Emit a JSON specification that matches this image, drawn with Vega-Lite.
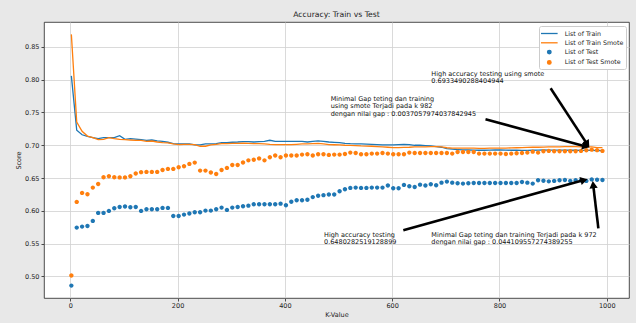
{
"$schema": "https://vega.github.io/schema/vega-lite/v6.json",
"width": 585, "height": 276,
"autosize": {"type": "none"},
"padding": {"left": 44, "top": 22, "right": 7, "bottom": 25},
"background": "#e8e8e8",
"title": {"text": "Accuracy: Train vs Test", "fontSize": 7.7, "fontWeight": "normal", "font": "DejaVu Sans", "color": "#222222", "offset": 3, "anchor": "middle"},
"config": {
  "font": "DejaVu Sans",
  "view": {"fill": "white", "stroke": "#222222", "strokeWidth": 0.8},
  "axis": {"domain": false, "grid": true, "gridColor": "#d0d0d0", "gridWidth": 0.8, "tickColor": "#222222", "tickSize": 3, "tickWidth": 0.8, "labelFontSize": 6.5, "labelColor": "#222222", "labelFont": "DejaVu Sans", "titleFont": "DejaVu Sans", "titleFontSize": 6.5, "titleFontWeight": "normal", "titleColor": "#222222", "labelPadding": 2}
},
"datasets": {
  "scores": [
    {"k":2,"train":0.8058,"train_smote":0.869,"test":0.4861,"test_smote":0.5014},
    {"k":12,"train":0.7229,"train_smote":0.7355,"test":0.5745,"test_smote":0.6137},
    {"k":22,"train":0.716,"train_smote":0.7213,"test":0.576,"test_smote":0.6274},
    {"k":32,"train":0.7137,"train_smote":0.714,"test":0.577,"test_smote":0.6253},
    {"k":42,"train":0.7117,"train_smote":0.7117,"test":0.5847,"test_smote":0.6355},
    {"k":52,"train":0.71,"train_smote":0.7087,"test":0.5969,"test_smote":0.641},
    {"k":62,"train":0.7117,"train_smote":0.709,"test":0.5969,"test_smote":0.6512},
    {"k":72,"train":0.7117,"train_smote":0.7117,"test":0.6,"test_smote":0.6528},
    {"k":82,"train":0.7117,"train_smote":0.71,"test":0.604,"test_smote":0.6512},
    {"k":92,"train":0.7145,"train_smote":0.709,"test":0.606,"test_smote":0.651},
    {"k":102,"train":0.709,"train_smote":0.7087,"test":0.6066,"test_smote":0.651},
    {"k":112,"train":0.71,"train_smote":0.708,"test":0.6055,"test_smote":0.6528},
    {"k":122,"train":0.7095,"train_smote":0.7076,"test":0.606,"test_smote":0.657},
    {"k":132,"train":0.7086,"train_smote":0.7076,"test":0.6,"test_smote":0.659},
    {"k":142,"train":0.7076,"train_smote":0.706,"test":0.6025,"test_smote":0.6594},
    {"k":152,"train":0.708,"train_smote":0.7065,"test":0.6025,"test_smote":0.6594},
    {"k":162,"train":0.7066,"train_smote":0.705,"test":0.6025,"test_smote":0.6594},
    {"k":172,"train":0.706,"train_smote":0.704,"test":0.6045,"test_smote":0.6624},
    {"k":182,"train":0.7046,"train_smote":0.7036,"test":0.6045,"test_smote":0.664},
    {"k":192,"train":0.7025,"train_smote":0.702,"test":0.5923,"test_smote":0.664},
    {"k":202,"train":0.702,"train_smote":0.701,"test":0.5923,"test_smote":0.6665},
    {"k":212,"train":0.7022,"train_smote":0.7015,"test":0.5943,"test_smote":0.668},
    {"k":222,"train":0.702,"train_smote":0.7015,"test":0.596,"test_smote":0.6716},
    {"k":232,"train":0.7005,"train_smote":0.701,"test":0.598,"test_smote":0.6736},
    {"k":242,"train":0.7005,"train_smote":0.6985,"test":0.598,"test_smote":0.6614},
    {"k":252,"train":0.702,"train_smote":0.6985,"test":0.6004,"test_smote":0.6614},
    {"k":262,"train":0.702,"train_smote":0.7005,"test":0.6004,"test_smote":0.6584},
    {"k":272,"train":0.7025,"train_smote":0.7015,"test":0.6025,"test_smote":0.6563},
    {"k":282,"train":0.704,"train_smote":0.7025,"test":0.605,"test_smote":0.6624},
    {"k":292,"train":0.704,"train_smote":0.7025,"test":0.6015,"test_smote":0.6655},
    {"k":302,"train":0.7046,"train_smote":0.703,"test":0.605,"test_smote":0.67},
    {"k":312,"train":0.705,"train_smote":0.703,"test":0.606,"test_smote":0.67},
    {"k":322,"train":0.7056,"train_smote":0.7033,"test":0.607,"test_smote":0.6738},
    {"k":332,"train":0.7055,"train_smote":0.703,"test":0.608,"test_smote":0.677},
    {"k":342,"train":0.705,"train_smote":0.7025,"test":0.61,"test_smote":0.678},
    {"k":352,"train":0.7055,"train_smote":0.7025,"test":0.61,"test_smote":0.68},
    {"k":362,"train":0.7058,"train_smote":0.7022,"test":0.61,"test_smote":0.677},
    {"k":372,"train":0.7076,"train_smote":0.7015,"test":0.61,"test_smote":0.6817},
    {"k":382,"train":0.7058,"train_smote":0.701,"test":0.61,"test_smote":0.6843},
    {"k":392,"train":0.706,"train_smote":0.701,"test":0.611,"test_smote":0.6817},
    {"k":402,"train":0.706,"train_smote":0.701,"test":0.6086,"test_smote":0.6843},
    {"k":412,"train":0.706,"train_smote":0.701,"test":0.614,"test_smote":0.6843},
    {"k":422,"train":0.706,"train_smote":0.7015,"test":0.6162,"test_smote":0.6843},
    {"k":432,"train":0.7058,"train_smote":0.702,"test":0.6162,"test_smote":0.6858},
    {"k":442,"train":0.705,"train_smote":0.702,"test":0.617,"test_smote":0.6863},
    {"k":452,"train":0.706,"train_smote":0.7025,"test":0.621,"test_smote":0.6843},
    {"k":462,"train":0.7066,"train_smote":0.703,"test":0.623,"test_smote":0.6863},
    {"k":472,"train":0.7058,"train_smote":0.702,"test":0.624,"test_smote":0.6863},
    {"k":482,"train":0.705,"train_smote":0.701,"test":0.625,"test_smote":0.6853},
    {"k":492,"train":0.7045,"train_smote":0.7008,"test":0.625,"test_smote":0.6858},
    {"k":502,"train":0.704,"train_smote":0.7005,"test":0.63,"test_smote":0.6858},
    {"k":512,"train":0.703,"train_smote":0.7,"test":0.633,"test_smote":0.6868},
    {"k":522,"train":0.7025,"train_smote":0.6998,"test":0.635,"test_smote":0.6888},
    {"k":532,"train":0.7022,"train_smote":0.6995,"test":0.6355,"test_smote":0.6883},
    {"k":542,"train":0.702,"train_smote":0.699,"test":0.635,"test_smote":0.6863},
    {"k":552,"train":0.7018,"train_smote":0.6988,"test":0.635,"test_smote":0.6863},
    {"k":562,"train":0.7015,"train_smote":0.6985,"test":0.6355,"test_smote":0.6873},
    {"k":572,"train":0.701,"train_smote":0.698,"test":0.6355,"test_smote":0.6873},
    {"k":582,"train":0.7005,"train_smote":0.6975,"test":0.6355,"test_smote":0.6883},
    {"k":592,"train":0.7005,"train_smote":0.697,"test":0.6386,"test_smote":0.6873},
    {"k":602,"train":0.7005,"train_smote":0.6965,"test":0.6345,"test_smote":0.6863},
    {"k":612,"train":0.701,"train_smote":0.6965,"test":0.6345,"test_smote":0.6863},
    {"k":622,"train":0.7015,"train_smote":0.6968,"test":0.6396,"test_smote":0.6863},
    {"k":632,"train":0.701,"train_smote":0.697,"test":0.6375,"test_smote":0.6888},
    {"k":642,"train":0.7,"train_smote":0.6975,"test":0.6365,"test_smote":0.6883},
    {"k":652,"train":0.7,"train_smote":0.6975,"test":0.64,"test_smote":0.6883},
    {"k":662,"train":0.6995,"train_smote":0.6975,"test":0.6386,"test_smote":0.6883},
    {"k":672,"train":0.699,"train_smote":0.6978,"test":0.6406,"test_smote":0.6883},
    {"k":682,"train":0.698,"train_smote":0.698,"test":0.639,"test_smote":0.6883},
    {"k":692,"train":0.697,"train_smote":0.6975,"test":0.643,"test_smote":0.6883},
    {"k":702,"train":0.6948,"train_smote":0.6962,"test":0.6446,"test_smote":0.6883},
    {"k":712,"train":0.694,"train_smote":0.6958,"test":0.643,"test_smote":0.6873},
    {"k":722,"train":0.6935,"train_smote":0.6955,"test":0.642,"test_smote":0.6898},
    {"k":732,"train":0.693,"train_smote":0.6955,"test":0.6416,"test_smote":0.6898},
    {"k":742,"train":0.6928,"train_smote":0.6955,"test":0.642,"test_smote":0.6898},
    {"k":752,"train":0.6926,"train_smote":0.6955,"test":0.6426,"test_smote":0.6898},
    {"k":762,"train":0.6924,"train_smote":0.6953,"test":0.6426,"test_smote":0.6873},
    {"k":772,"train":0.6924,"train_smote":0.6953,"test":0.6426,"test_smote":0.6873},
    {"k":782,"train":0.6926,"train_smote":0.6955,"test":0.6426,"test_smote":0.6873},
    {"k":792,"train":0.6928,"train_smote":0.6955,"test":0.6426,"test_smote":0.6873},
    {"k":802,"train":0.6928,"train_smote":0.6955,"test":0.6426,"test_smote":0.6873},
    {"k":812,"train":0.6926,"train_smote":0.6957,"test":0.6426,"test_smote":0.6868},
    {"k":822,"train":0.6924,"train_smote":0.696,"test":0.6426,"test_smote":0.6873},
    {"k":832,"train":0.6924,"train_smote":0.6962,"test":0.6426,"test_smote":0.6878},
    {"k":842,"train":0.6923,"train_smote":0.6965,"test":0.644,"test_smote":0.6883},
    {"k":852,"train":0.6923,"train_smote":0.6967,"test":0.643,"test_smote":0.6888},
    {"k":862,"train":0.6924,"train_smote":0.697,"test":0.6416,"test_smote":0.6903},
    {"k":872,"train":0.6926,"train_smote":0.697,"test":0.6467,"test_smote":0.6888},
    {"k":882,"train":0.6928,"train_smote":0.6972,"test":0.646,"test_smote":0.6909},
    {"k":892,"train":0.6927,"train_smote":0.6975,"test":0.645,"test_smote":0.6914},
    {"k":902,"train":0.6926,"train_smote":0.6975,"test":0.6457,"test_smote":0.6909},
    {"k":912,"train":0.6925,"train_smote":0.6977,"test":0.6467,"test_smote":0.6909},
    {"k":922,"train":0.6925,"train_smote":0.6978,"test":0.647,"test_smote":0.6909},
    {"k":932,"train":0.6924,"train_smote":0.6978,"test":0.6457,"test_smote":0.6909},
    {"k":942,"train":0.6924,"train_smote":0.6978,"test":0.6467,"test_smote":0.6909},
    {"k":952,"train":0.6923,"train_smote":0.6977,"test":0.6467,"test_smote":0.6914},
    {"k":962,"train":0.6922,"train_smote":0.6976,"test":0.6457,"test_smote":0.6924},
    {"k":972,"train":0.6921,"train_smote":0.6975,"test":0.648,"test_smote":0.6933},
    {"k":982,"train":0.692,"train_smote":0.6963,"test":0.6475,"test_smote":0.6926},
    {"k":992,"train":0.6919,"train_smote":0.6965,"test":0.647,"test_smote":0.6914}
  ],
  "arrows": [
    {"id":1,"k0":895.4,"v0":0.7868,"k1":963.8,"v1":0.7014},
    {"id":2,"k0":774.0,"v0":0.7396,"k1":961.0,"v1":0.6983},
    {"id":3,"k0":620.8,"v0":0.5706,"k1":957.7,"v1":0.6469},
    {"id":4,"k0":984.4,"v0":0.5732,"k1":974.7,"v1":0.6399}
  ],
  "notes": [
    {"k":673,"v":0.8134,"label":"High accuracy testing using smote\n0.6933490288404944"},
    {"k":485.4,"v":0.7753,"label":"Minimal Gap teting dan training\n\u00a0using smote Terjadi pada k 982\n\u00a0dengan nilai gap : 0.0037057974037842945"},
    {"k":473,"v":0.5683,"label":"High accuracy testing\n0.6480282519128899"},
    {"k":673,"v":0.5683,"label":"Minimal Gap teting dan training Terjadi pada k 972\n\u00a0dengan nilai gap : 0.044109557274389255"}
  ]
},
"layer": [
  {
    "data": {"name": "scores"},
    "transform": [{"fold": ["train", "train_smote"], "as": ["series", "score"]}],
    "mark": {"type": "line", "strokeWidth": 1.3},
    "encoding": {
      "x": {"field": "k", "type": "quantitative", "title": "K-Value", "scale": {"domain": [-49, 1041.5], "nice": false, "zero": false}, "axis": {"values": [0, 200, 400, 600, 800, 1000], "format": "d", "labelPadding": 1.5, "titlePadding": 2}},
      "y": {"field": "score", "type": "quantitative", "title": "Score", "scale": {"domain": [0.4672, 0.8879], "nice": false, "zero": false}, "axis": {"values": [0.5, 0.55, 0.6, 0.65, 0.7, 0.75, 0.8, 0.85], "tickCount": 8, "format": ".2f", "titlePadding": 3.5}},
      "color": {
        "field": "series", "type": "nominal",
        "scale": {"domain": ["train", "train_smote", "test", "test_smote"], "range": ["#1f77b4", "#ff7f0e", "#1f77b4", "#ff7f0e"]},
        "legend": {
          "title": null, "orient": "top-right", "offset": 3.5,
          "fillColor": "white", "strokeColor": "#cccccc", "cornerRadius": 2, "padding": 2,
          "labelFontSize": 6.3, "labelColor": "#222222", "labelFont": "DejaVu Sans",
          "rowPadding": 0.3, "symbolSize": 81, "symbolStrokeWidth": 1.3, "symbolOffset": 2.8, "labelOffset": 10,
          "labelExpr": "datum.value == 'train' ? 'List of Train' : datum.value == 'train_smote' ? 'List of Train Smote' : datum.value == 'test' ? 'List of Test' : 'List of Test Smote'"
        }
      }
    }
  },
  {
    "data": {"name": "scores"},
    "transform": [{"fold": ["test", "test_smote"], "as": ["series", "score"]}],
    "mark": {"type": "point", "filled": true, "size": 121, "opacity": 1},
    "encoding": {
      "x": {"field": "k", "type": "quantitative", "title": "K-Value", "axis": {"values": [0, 200, 400, 600, 800, 1000], "format": "d", "labelPadding": 1.5, "titlePadding": 2}},
      "y": {"field": "score", "type": "quantitative", "title": "Score", "axis": {"values": [0.5, 0.55, 0.6, 0.65, 0.7, 0.75, 0.8, 0.85], "tickCount": 8, "format": ".2f", "titlePadding": 3.5}},
      "color": {"field": "series", "type": "nominal"},
      "shape": {
        "field": "series", "type": "nominal",
        "scale": {"domain": ["train", "train_smote", "test", "test_smote"], "range": ["M-1.85,0L1.85,0", "M-1.85,0L1.85,0", "M-0.4,0A0.4,0.4,0,1,1,0.4,0A0.4,0.4,0,1,1,-0.4,0Z", "M-0.4,0A0.4,0.4,0,1,1,0.4,0A0.4,0.4,0,1,1,-0.4,0Z"]},
        "legend": {
          "title": null, "orient": "top-right", "offset": 3.5,
          "fillColor": "white", "strokeColor": "#cccccc", "cornerRadius": 2, "padding": 2,
          "labelFontSize": 6.3, "labelColor": "#222222", "labelFont": "DejaVu Sans",
          "rowPadding": 0.3, "symbolSize": 81, "symbolStrokeWidth": 1.3, "symbolOffset": 2.8, "labelOffset": 10,
          "labelExpr": "datum.value == 'train' ? 'List of Train' : datum.value == 'train_smote' ? 'List of Train Smote' : datum.value == 'test' ? 'List of Test' : 'List of Test Smote'"
        }
      }
    }
  },
  {
    "data": {"name": "arrows"},
    "mark": {"type": "rule", "color": "black", "strokeWidth": 2.6},
    "encoding": {
      "x": {"field": "k0", "type": "quantitative", "title": "K-Value", "axis": {"values": [0, 200, 400, 600, 800, 1000], "format": "d", "labelPadding": 1.5, "titlePadding": 2}},
      "y": {"field": "v0", "type": "quantitative", "title": "Score", "axis": {"values": [0.5, 0.55, 0.6, 0.65, 0.7, 0.75, 0.8, 0.85], "tickCount": 8, "format": ".2f", "titlePadding": 3.5}},
      "x2": {"field": "k1"},
      "y2": {"field": "v1"}
    }
  },
  {
    "data": {"name": "arrows"},
    "mark": {"type": "point", "shape": "triangle-up", "filled": true, "color": "black", "size": 70, "opacity": 1},
    "encoding": {
      "x": {"field": "k1", "type": "quantitative", "title": "K-Value", "axis": {"values": [0, 200, 400, 600, 800, 1000], "format": "d", "labelPadding": 1.5, "titlePadding": 2}},
      "y": {"field": "v1", "type": "quantitative", "title": "Score", "axis": {"values": [0.5, 0.55, 0.6, 0.65, 0.7, 0.75, 0.8, 0.85], "tickCount": 8, "format": ".2f", "titlePadding": 3.5}},
      "angle": {"field": "id", "type": "quantitative", "scale": {"domain": [1, 2, 3, 4], "range": [146.9, 105.1, 74.5, 353.3]}, "legend": null}
    }
  },
  {
    "data": {"name": "notes"},
    "mark": {"type": "text", "align": "left", "baseline": "top", "fontSize": 6.5, "font": "DejaVu Sans", "color": "#111111", "lineBreak": "\n", "lineHeight": 7.5},
    "encoding": {
      "x": {"field": "k", "type": "quantitative", "title": "K-Value", "axis": {"values": [0, 200, 400, 600, 800, 1000], "format": "d", "labelPadding": 1.5, "titlePadding": 2}},
      "y": {"field": "v", "type": "quantitative", "title": "Score", "axis": {"values": [0.5, 0.55, 0.6, 0.65, 0.7, 0.75, 0.8, 0.85], "tickCount": 8, "format": ".2f", "titlePadding": 3.5}},
      "text": {"field": "label"}
    }
  }
]
}
